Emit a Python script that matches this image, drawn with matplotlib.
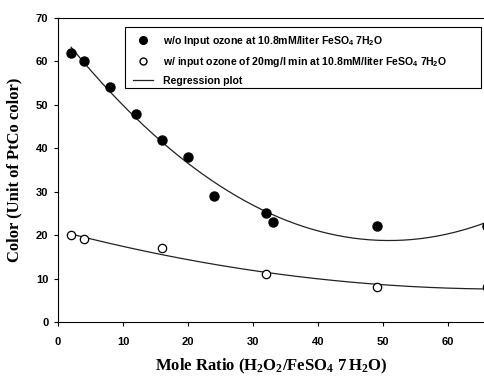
import numpy as np
import matplotlib
matplotlib.use("Agg")
import matplotlib.pyplot as plt
from matplotlib.lines import Line2D
from matplotlib.patches import Rectangle

# Data
x_no_ozone = [2, 4, 8, 12, 16, 20, 24, 32, 33, 49, 66]
y_no_ozone = [62, 60, 54, 48, 42, 38, 29, 25, 23, 22, 22]
x_ozone = [2, 4, 16, 32, 49, 66]
y_ozone = [20, 19, 17, 11, 8, 8]

xticks = [0, 10, 20, 30, 40, 50, 60]
yticks = [0, 10, 20, 30, 40, 50, 60, 70]

label_no = "w/o Input ozone at 10.8mM/liter FeSO$_4$ 7H$_2$O"
label_oz = "w/ input ozone of 20mg/l min at 10.8mM/liter FeSO$_4$ 7H$_2$O"
label_reg = "Regression plot"

plt.rcParams['mathtext.default'] = 'regular'

fig = plt.figure(figsize=(4.84, 3.76), dpi=100)
ax = fig.add_axes([0.12, 0.1436, 0.88, 0.8085])

# regression curves (quadratic fits)
c1 = np.polyfit(x_no_ozone, y_no_ozone, 2)
c2 = np.polyfit(x_ozone, y_ozone, 2)
xs = np.linspace(2, 66, 200)
ax.plot(xs, np.polyval(c1, xs), color='#222222', lw=0.9, zorder=2)
ax.plot(xs, np.polyval(c2, xs), color='#222222', lw=0.9, zorder=2)

ax.plot(x_no_ozone, y_no_ozone, 'o', color='black', ms=6.5, zorder=3, clip_on=False)
ax.plot(x_ozone, y_ozone, 'o', mfc='white', mec='black', mew=0.9, ms=6, zorder=3, clip_on=False)

ax.set_xlim(0, 65.5)
ax.set_ylim(0, 70)
ax.set_xticks(xticks)
ax.set_yticks(yticks)
for s in ['top', 'left', 'bottom']:
    ax.spines[s].set_linewidth(0.8)
ax.spines['right'].set_visible(False)
ax.tick_params(direction='out', length=3, width=0.8, labelsize=8, pad=4)
ax.tick_params(axis='x', pad=8)
for lab in ax.get_xticklabels() + ax.get_yticklabels():
    lab.set_fontfamily('Liberation Sans')
    lab.set_fontweight('bold')

ax.set_xlabel("Mole Ratio (H$_2$O$_2$/FeSO$_4$ 7$\\,$H$_2$O)", fontfamily='Liberation Serif',
              fontweight='bold', fontsize=12, labelpad=7)
ax.set_ylabel("Color (Unit of PtCo color)", fontfamily='Liberation Serif',
              fontweight='bold', fontsize=12, labelpad=10)

# legend frame
ax.add_patch(Rectangle((0.157, 0.770), 0.836, 0.200, transform=ax.transAxes,
                       facecolor='white', edgecolor='black', lw=0.8, zorder=4))

handles = [
    Line2D([], [], ls='none', marker='o', color='black', ms=5.5),
    Line2D([], [], ls='none', marker='o', mfc='white', mec='black', ms=5),
    Line2D([], [], color='#222222', lw=0.9),
]
leg = ax.legend(handles, [label_no, label_oz, label_reg], loc='center left',
                bbox_to_anchor=(0.176, 0.862), frameon=False, handlelength=1.9,
                prop={'family': 'Liberation Sans', 'weight': 'bold', 'size': 7.6},
                borderpad=0, borderaxespad=0, labelspacing=0.65, handletextpad=0.9)
leg.set_zorder(5)

fig.savefig("out.png", dpi=100)
